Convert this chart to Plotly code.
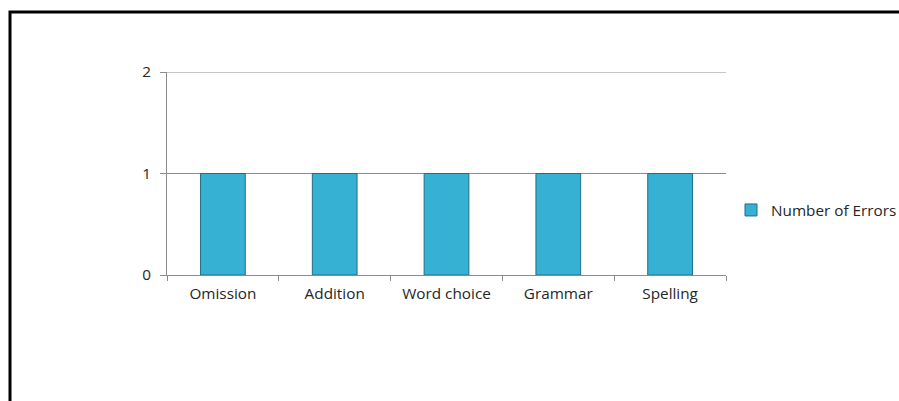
import plotly.graph_objects as go

categories = ["Omission", "Addition", "Word choice", "Grammar", "Spelling"]
errors = [1, 1, 1, 1, 1]
series_name = "Number of Errors"
y_ticks = [0, 1, 2]

W, H = 899, 401
L, R, T, B = 167, 173, 72, 126
pw = W - L - R
ph = H - T - B

fig = go.Figure()
fig.add_trace(go.Bar(
    x=categories, y=errors, name=series_name,
    width=0.4,
    marker=dict(color="#37B1D3", line=dict(color="#1E6F86", width=1)),
))

font = dict(family="Open Sans, sans-serif", size=15.3, color="#262626")
lfont = dict(family="Open Sans, sans-serif", size=15.3, color="#262626")

fig.update_layout(
    width=W, height=H,
    margin=dict(l=L, r=R, t=T, b=B, pad=0, autoexpand=False),
    paper_bgcolor="white", plot_bgcolor="white",
    font=font,
    showlegend=True,
    legend=dict(x=(731 - L) / pw, y=(T + ph - 210) / ph, yanchor="middle", xanchor="left",
                font=lfont, bgcolor="rgba(0,0,0,0)", itemwidth=30),
    xaxis=dict(showline=True, linecolor="#8C8C8C", linewidth=1, ticks="outside",
               tickson="boundaries", ticklen=5, tickcolor="#8C8C8C", showgrid=False,
               mirror=False, tickfont=font, ticklabelstandoff=5),
    yaxis=dict(range=[0, max(y_ticks)], tickvals=y_ticks, showline=True, linecolor="#8C8C8C",
               linewidth=1, ticks="outside", ticklen=6, tickcolor="#8C8C8C",
               showgrid=True, gridcolor="#8C8C8C", gridwidth=1, zeroline=False,
               tickfont=font, ticklabelstandoff=6),
    shapes=[
        dict(type="line", xref="paper", yref="y", x0=0, x1=1,
             y0=max(y_ticks), y1=max(y_ticks),
             line=dict(color="#8C8C8C", width=1), layer="below"),
        dict(type="rect", xref="paper", yref="paper",
             x0=(10 - L) / pw, x1=(W + 20 - L) / pw,
             y0=(T + ph - (H + 20)) / ph, y1=(T + ph - 12) / ph,
             line=dict(color="black", width=3), layer="above"),
    ],
)

fig.write_html("out.html")
